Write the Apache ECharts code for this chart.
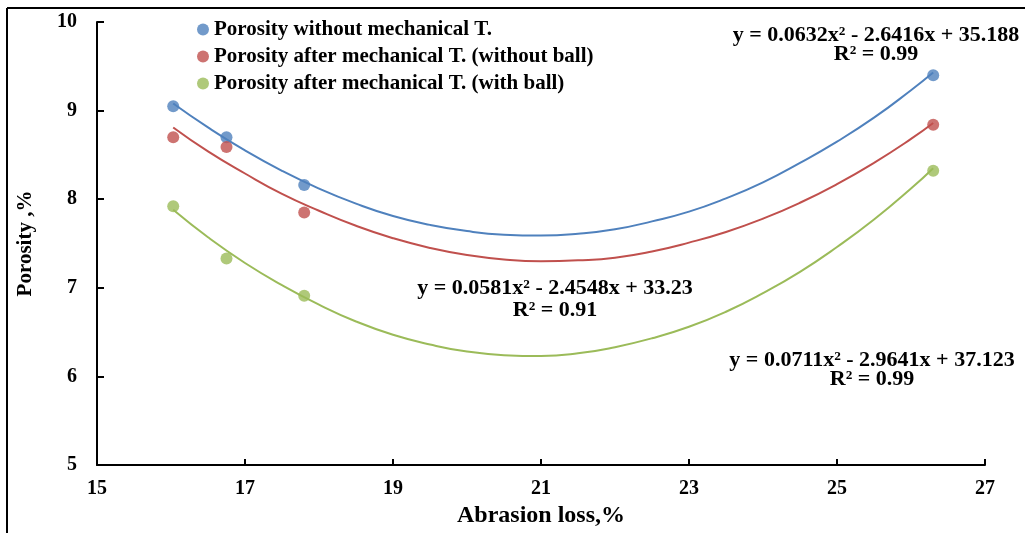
<!DOCTYPE html>
<html><head><meta charset="utf-8">
<script src="https://cdn.jsdelivr.net/npm/echarts@6/dist/echarts.min.js"></script>
<style>html,body{margin:0;padding:0;background:#fff}#c{width:1025px;height:533px}</style>
</head><body><div id="c"></div>
<script>
const seriesNames = ['Porosity without mechanical T.', 'Porosity after mechanical T. (without ball)', 'Porosity after mechanical T. (with ball)'];
const abrasion = [16.03, 16.75, 17.8, 26.3];
const porosityWithout = [9.05, 8.70, 8.16, 9.40];
const porosityNoBall = [8.70, 8.59, 7.85, 8.84];
const porosityBall = [7.92, 7.33, 6.91, 8.32];
// trendline positions
const trendX = [16.03, 16.5, 17, 17.5, 18, 18.5, 19, 19.5, 20, 20.5, 21, 21.5, 22, 22.5, 23, 23.5, 24, 24.5, 25, 25.5, 26, 26.3];
const trendWithout = [9.08, 8.81, 8.55, 8.32, 8.12, 7.95, 7.81, 7.71, 7.64, 7.60, 7.59, 7.61, 7.66, 7.75, 7.86, 8.01, 8.19, 8.41, 8.65, 8.92, 9.23, 9.43];
const trendNoBall = [8.81, 8.54, 8.29, 8.06, 7.87, 7.70, 7.56, 7.45, 7.37, 7.32, 7.30, 7.31, 7.34, 7.41, 7.51, 7.63, 7.78, 7.96, 8.17, 8.41, 8.68, 8.86];
const trendBall = [7.88, 7.57, 7.28, 7.03, 6.81, 6.62, 6.47, 6.36, 6.28, 6.24, 6.23, 6.26, 6.33, 6.43, 6.56, 6.73, 6.94, 7.18, 7.46, 7.77, 8.12, 8.35];
const eqText = ['y = 0.0632x\u00b2 - 2.6416x + 35.188', 'y = 0.0581x\u00b2 - 2.4548x + 33.23', 'y = 0.0711x\u00b2 - 2.9641x + 37.123'];
const r2Text = ['R\u00b2 = 0.99', 'R\u00b2 = 0.91', 'R\u00b2 = 0.99'];
const xTicks = {min: 15, max: 27, interval: 2};
const yTicks = {min: 5, max: 10, interval: 1};

const colors = ['#4F81BD', '#C0504D', '#9BBB59'];
const font = 'Liberation Serif';
const pts = [porosityWithout, porosityNoBall, porosityBall];
const trends = [trendWithout, trendNoBall, trendBall];

const series = [];
for (let i = 0; i < 3; i++) {
  series.push({
    name: seriesNames[i] + ' trend', type: 'line', smooth: true, showSymbol: false, silent: true,
    data: trendX.map((x, j) => [x, trends[i][j]]),
    lineStyle: {color: colors[i], width: 2}, z: 2
  });
}
for (let i = 0; i < 3; i++) {
  series.push({
    name: seriesNames[i], type: 'scatter', symbol: 'circle', symbolSize: 12,
    data: abrasion.map((x, j) => [x, pts[i][j]]),
    itemStyle: {color: colors[i]}, z: 3
  });
}

function eq(cx, y1, y2, i) {
  const f = 'bold 22px "' + font + '"';
  return [
    {type: 'text', x: cx, y: y1, style: {text: eqText[i], x: 0, y: 0, align: 'center', verticalAlign: 'middle', font: f, fill: '#000'}},
    {type: 'text', x: cx, y: y2, style: {text: r2Text[i], x: 0, y: 0, align: 'center', verticalAlign: 'middle', font: f, fill: '#000'}}
  ];
}

const chart = echarts.init(document.getElementById('c'), null, {renderer: 'canvas'});
chart.setOption({
  animation: false,
  backgroundColor: '#fff',
  grid: {left: 97, right: 40, top: 22, bottom: 68},
  legend: {
    data: seriesNames, orient: 'vertical', left: 192, top: 14, itemGap: 6,
    icon: 'circle', itemWidth: 12, itemHeight: 12,
    textStyle: {fontFamily: font, fontWeight: 'bold', fontSize: 21, color: '#000'}
  },
  xAxis: {
    type: 'value', min: xTicks.min, max: xTicks.max, interval: xTicks.interval,
    name: 'Abrasion loss,%', nameLocation: 'middle', nameGap: 36,
    nameTextStyle: {fontFamily: font, fontWeight: 'bold', fontSize: 24, color: '#000'},
    axisLine: {lineStyle: {color: '#000', width: 2}},
    axisTick: {inside: true, length: 6, lineStyle: {color: '#000', width: 2}},
    axisLabel: {fontFamily: font, fontWeight: 'bold', fontSize: 20, color: '#000', margin: 14},
    splitLine: {show: false}
  },
  yAxis: {
    type: 'value', min: yTicks.min, max: yTicks.max, interval: yTicks.interval,
    name: 'Porosity ,%', nameLocation: 'middle', nameGap: 61,
    nameTextStyle: {fontFamily: font, fontWeight: 'bold', fontSize: 21, color: '#000'},
    axisLine: {show: true, lineStyle: {color: '#000', width: 2}},
    axisTick: {show: true, inside: true, length: 7, lineStyle: {color: '#000', width: 2}},
    axisLabel: {fontFamily: font, fontWeight: 'bold', fontSize: 20, color: '#000', margin: 20},
    splitLine: {show: false}
  },
  series: series,
  graphic: [
    {type: 'line', shape: {x1: 7, y1: 8, x2: 1025, y2: 8}, style: {stroke: '#000', lineWidth: 2}},
    {type: 'line', shape: {x1: 7, y1: 8, x2: 7, y2: 533}, style: {stroke: '#000', lineWidth: 2}},
    ...eq(876, 35, 54, 0), ...eq(555, 288, 310, 1), ...eq(872, 360, 379, 2)
  ]
});
</script></body></html>
